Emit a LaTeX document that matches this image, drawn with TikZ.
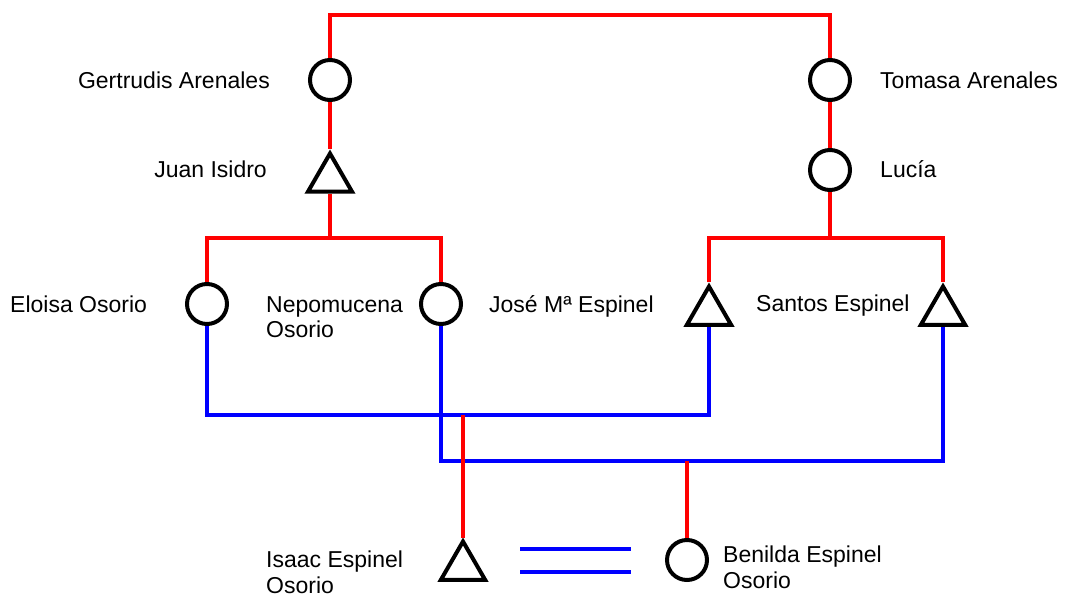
\documentclass[tikz,border=0pt]{standalone}
\usepackage{fontspec}
\setmainfont{Liberation Sans}
\usetikzlibrary{shapes.geometric}
\tikzset{
  fem/.style={circle, draw=black, line width=4pt, minimum size=40pt, inner sep=0pt},
  male/.style={regular polygon, regular polygon sides=3, draw=black, line width=4pt, minimum size=51pt, inner sep=0pt},
  kin/.style={draw=red, line width=4pt},
  mar/.style={draw=blue, line width=4pt},
  lbl/.style={inner sep=0pt, font=\fontsize{23}{26}\selectfont},
}
\begin{document}
\begin{tikzpicture}[x=1pt, y=-1pt]
\useasboundingbox (0,0) rectangle (1070,596);
% persons
\node[fem]  (G)  at (330,80)  {};
\node[fem]  (T)  at (830,80)  {};
\node[male] (J)  at (330,179) {};
\node[fem]  (L)  at (830,170) {};
\node[fem]  (E)  at (207,304) {};
\node[fem]  (N)  at (441,304) {};
\node[male] (JM) at (709,312) {};
\node[male] (S)  at (943,312) {};
\node[male] (I)  at (463,567) {};
\node[fem]  (B)  at (687,560) {};
% helper levels
\coordinate (top) at (0,15);
\coordinate (sib) at (0,238);
\coordinate (b1) at (0,415);
\coordinate (b2) at (0,461);
\coordinate (c1) at (463,415);
\coordinate (c2) at (687,461);
\coordinate (m1a) at (520,549);
\coordinate (m1b) at (631,549);
\coordinate (m2a) at (520,572);
\coordinate (m2b) at (631,572);
% blue marriage lines
\draw[mar] (E.south) |- (JM.south |- b1) -- (JM.south);
\draw[mar] (N.south) |- (S.south |- b2) -- (S.south);
\draw[mar] (m1a) -- (m1b);
\draw[mar] (m2a) -- (m2b);
% red kinship lines
\draw[kin] (G.north) -- (G.north |- top) -- (T.north |- top) -- (T.north);
\draw[kin] (G.south) -- (J.north);
\draw[kin] (T.south) -- (L.north);
\draw[kin] (J.south) -- (J.south |- sib);
\draw[kin] (E.north) -- (E.north |- sib) -- (N.north |- sib) -- (N.north);
\draw[kin] (L.south) -- (L.south |- sib);
\draw[kin] (JM.north) -- (JM.north |- sib) -- (S.north |- sib) -- (S.north);
\draw[kin] (c1) -- (I.north);
\draw[kin] (c2) -- (B.north);
% labels
\node[lbl, anchor=base east] (lG) at (270,89) {Gertrudis Arenales};
\node[lbl, anchor=base west] (lT) at (880,89) {Tomasa Arenales};
\node[lbl, anchor=base east] (lJ) at (267,178) {Juan Isidro};
\node[lbl, anchor=base west] (lL) at (880,178) {Lucía};
\node[lbl, anchor=base west] (lE) at (10,312) {Eloisa Osorio};
\node[lbl, anchor=base west] (lN1) at (266,312) {Nepomucena};
\node[lbl, anchor=base west] (lN2) at (266,337) {Osorio};
\node[lbl, anchor=base west] (lJM) at (489,312) {José Mª Espinel};
\node[lbl, anchor=base west] (lS) at (756,311) {Santos Espinel};
\node[lbl, anchor=base west] (lI1) at (266,567) {Isaac Espinel};
\node[lbl, anchor=base west] (lI2) at (266,593) {Osorio};
\node[lbl, anchor=base west] (lB1) at (723,562) {Benilda Espinel};
\node[lbl, anchor=base west] (lB2) at (723,588) {Osorio};
\end{tikzpicture}
\end{document}
